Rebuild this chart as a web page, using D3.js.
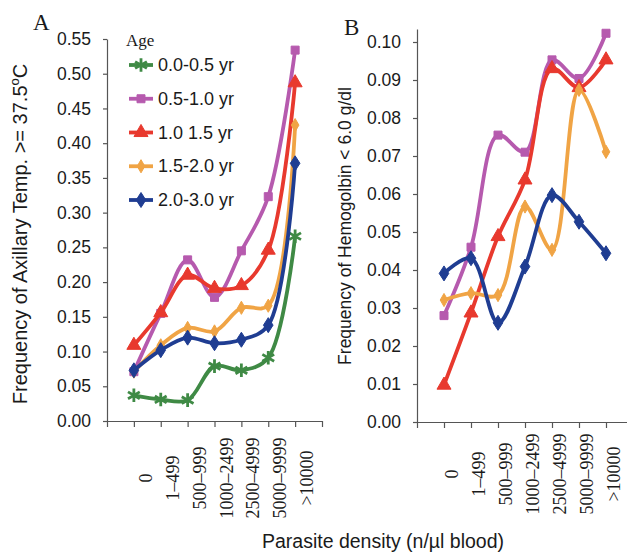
<!DOCTYPE html>
<html>
<head>
<meta charset="utf-8">
<script src="https://cdn.jsdelivr.net/npm/d3@7"></script>
<style>
  html, body { margin: 0; padding: 0; background: #ffffff; }
  svg { display: block; }
</style>
</head>
<body>
<svg id="chart" width="627" height="555"></svg>
<script>
// Parasite density classes (n/µl blood)
const categories = ["0", "1\u2013499", "500\u2013999", "1000\u20132499", "2500\u20134999", "5000\u20139999", ">10000"];

// Age groups
const ageGroups = ["0.0-0.5 yr", "0.5-1.0 yr", "1.0 1.5 yr", "1.5-2.0 yr", "2.0-3.0 yr"];

// Panel A: frequency of axillary temperature >= 37.5 °C
const feverAge00to05 = [0.037, 0.031, 0.030, 0.079, 0.073, 0.091, 0.266];
const feverAge05to10 = [0.071, 0.155, 0.232, 0.178, 0.245, 0.323, 0.534];
const feverAge10to15 = [0.109, 0.156, 0.210, 0.191, 0.195, 0.246, 0.487];
const feverAge15to20 = [0.071, 0.109, 0.134, 0.129, 0.163, 0.166, 0.426];
const feverAge20to30 = [0.073, 0.102, 0.120, 0.112, 0.117, 0.138, 0.371];

// Panel B: frequency of hemoglobin < 6.0 g/dl
const anemiaAge05to10 = [0.0280, 0.0460, 0.0755, 0.0710, 0.0953, 0.0904, 0.1023];
const anemiaAge10to15 = [0.0097, 0.0287, 0.0488, 0.0637, 0.0930, 0.0880, 0.0953];
const anemiaAge15to20 = [0.0321, 0.0339, 0.0334, 0.0567, 0.0453, 0.0874, 0.0711];
const anemiaAge20to30 = [0.0391, 0.0431, 0.0261, 0.0409, 0.0597, 0.0527, 0.0444];

// Y tick values
const feverTicks = [0, 0.05, 0.10, 0.15, 0.20, 0.25, 0.30, 0.35, 0.40, 0.45, 0.50, 0.55];
const anemiaTicks = [0, 0.01, 0.02, 0.03, 0.04, 0.05, 0.06, 0.07, 0.08, 0.09, 0.10];

// Styling per age group
const groupStyle = [
  { color: "#3f8a45", symbol: d3.symbolAsterisk, size: 130, stroke: true },
  { color: "#b65aae", symbol: d3.symbolSquare, size: 64 },
  { color: "#e8392e", symbol: d3.symbolTriangle, size: 85 },
  { color: "#f0a445", symbol: d3.symbolDiamond, size: 50 },
  { color: "#1f3d92", symbol: "tallDiamond", size: 0 }
];

const sansFont = "'Liberation Sans', Arial, sans-serif";
const serifFont = "'Liberation Serif', 'Times New Roman', serif";

const svg = d3.select("#chart");

function markerPath(style) {
  if (style.symbol === "tallDiamond") {
    return "M0,-7.5L4.8,0L0,7.5L-4.8,0Z";
  }
  return d3.symbol().type(style.symbol).size(style.size)();
}

function drawPanel(opts) {
  const g = svg.append("g");
  const x = d3.scaleLinear().domain([0, 8]).range(opts.xRange);
  const y = d3.scaleLinear().domain(opts.yDomain).range(opts.yRange);

  // Y axis
  const yAxis = d3.axisLeft(y)
    .tickValues(opts.yTicks)
    .tickFormat(opts.yFormat)
    .tickSize(4)
    .tickSizeOuter(0)
    .tickPadding(12);
  const yg = g.append("g")
    .attr("transform", `translate(${opts.xRange[0]},0)`)
    .call(yAxis);
  yg.selectAll("text")
    .attr("font-family", sansFont)
    .attr("font-size", 17.5)
    .attr("fill", "#1a1a1a");
  yg.selectAll("line, path").attr("stroke", "#555").attr("stroke-width", 1.2);

  // X axis: ticks at the band edges, labels offset toward the right
  const xAxis = d3.axisBottom(x)
    .tickValues(d3.range(0, 9))
    .tickFormat("")
    .tickSize(6)
    .tickSizeOuter(0);
  const xg = g.append("g")
    .attr("transform", `translate(0,${opts.yRange[0]})`)
    .call(xAxis);
  xg.selectAll("line, path").attr("stroke", "#555").attr("stroke-width", 1.2);

  g.append("g").selectAll("text")
    .data(categories)
    .join("text")
    .attr("transform", (d, i) => `translate(${x(i + 1) + opts.labelShift},${opts.labelY}) rotate(-90)`)
    .attr("text-anchor", "middle")
    .attr("dominant-baseline", "central")
    .attr("font-family", serifFont)
    .attr("font-size", 18)
    .attr("fill", "#1a1a1a")
    .text(d => d);

  // Series
  const line = d3.line()
    .x((d, i) => x(i + 1))
    .y(d => y(d))
    .curve(d3.curveCatmullRom.alpha(0.5));

  opts.series.forEach(s => {
    const st = groupStyle[s.group];
    g.append("path")
      .datum(s.values)
      .attr("d", line)
      .attr("fill", "none")
      .attr("stroke", st.color)
      .attr("stroke-width", 3.8)
      .attr("stroke-linejoin", "round");
    g.append("g").selectAll("path")
      .data(s.values)
      .join("path")
      .attr("transform", (d, i) => `translate(${x(i + 1)},${y(d)})`)
      .attr("d", markerPath(st))
      .attr("fill", st.stroke ? "none" : st.color)
      .attr("stroke", st.color)
      .attr("stroke-width", st.stroke ? 2.8 : 1);
  });

  // Y axis title
  const title = g.append("text")
    .attr("transform", `translate(${opts.titleX},${opts.titleY}) rotate(-90)`)
    .attr("text-anchor", "middle")
    .attr("font-family", sansFont)
    .attr("font-size", opts.titleSize)
    .attr("fill", "#1a1a1a");
  opts.title(title);

  // Panel letter
  g.append("text")
    .attr("x", opts.letterX)
    .attr("y", opts.letterY)
    .attr("font-family", serifFont)
    .attr("font-size", 23)
    .attr("fill", "#1a1a1a")
    .text(opts.letter);

  return { g, x, y };
}

// Panel A
drawPanel({
  xRange: [107, 322],
  yRange: [421, 39],
  yDomain: [0, 0.55],
  yTicks: feverTicks,
  yFormat: d3.format(".2f"),
  labelShift: 12,
  labelY: 478,
  series: [
    { group: 0, values: feverAge00to05 },
    { group: 1, values: feverAge05to10 },
    { group: 2, values: feverAge10to15 },
    { group: 3, values: feverAge15to20 },
    { group: 4, values: feverAge20to30 }
  ],
  titleX: 27,
  titleY: 234,
  titleSize: 20,
  title: t => {
    t.append("tspan").text("Frequency of Axillary Temp. >= 37.5");
    t.append("tspan").attr("font-size", 13).attr("dy", -8).text("o");
    t.append("tspan").attr("dy", 8).text("C");
  },
  letter: "A",
  letterX: 33,
  letterY: 30
});

// Panel B
drawPanel({
  xRange: [417, 633],
  yRange: [422, 29],
  yDomain: [0, (422 - 29) / 3800],
  yTicks: anemiaTicks,
  yFormat: d3.format(".2f"),
  labelShift: 8,
  labelY: 474,
  series: [
    { group: 1, values: anemiaAge05to10 },
    { group: 2, values: anemiaAge10to15 },
    { group: 3, values: anemiaAge15to20 },
    { group: 4, values: anemiaAge20to30 }
  ],
  titleX: 351,
  titleY: 226,
  titleSize: 17.5,
  title: t => t.text("Frequency of Hemogolbin < 6.0 g/dl"),
  letter: "B",
  letterX: 344,
  letterY: 35
});

// Legend
const legend = svg.append("g");
legend.append("text")
  .attr("x", 126)
  .attr("y", 46)
  .attr("font-family", serifFont)
  .attr("font-size", 17)
  .attr("fill", "#1a1a1a")
  .text("Age");

const legendY = d3.scalePoint().domain(ageGroups).range([65, 200]);
ageGroups.forEach((name, i) => {
  const st = groupStyle[i];
  const yy = legendY(name);
  legend.append("line")
    .attr("x1", 129).attr("x2", 153)
    .attr("y1", yy).attr("y2", yy)
    .attr("stroke", st.color)
    .attr("stroke-width", 3.8);
  legend.append("path")
    .attr("transform", `translate(141,${yy})`)
    .attr("d", markerPath(st))
    .attr("fill", st.stroke ? "none" : st.color)
    .attr("stroke", st.color)
    .attr("stroke-width", st.stroke ? 2.8 : 1);
  legend.append("text")
    .attr("x", 158)
    .attr("y", yy)
    .attr("dominant-baseline", "central")
    .attr("font-family", sansFont)
    .attr("font-size", 18)
    .attr("fill", "#1a1a1a")
    .text(name);
});

// Shared x axis title
svg.append("text")
  .attr("x", 383)
  .attr("y", 548)
  .attr("text-anchor", "middle")
  .attr("font-family", sansFont)
  .attr("font-size", 19.5)
  .attr("fill", "#1a1a1a")
  .text("Parasite density (n/\u00b5l blood)");
</script>
</body>
</html>
